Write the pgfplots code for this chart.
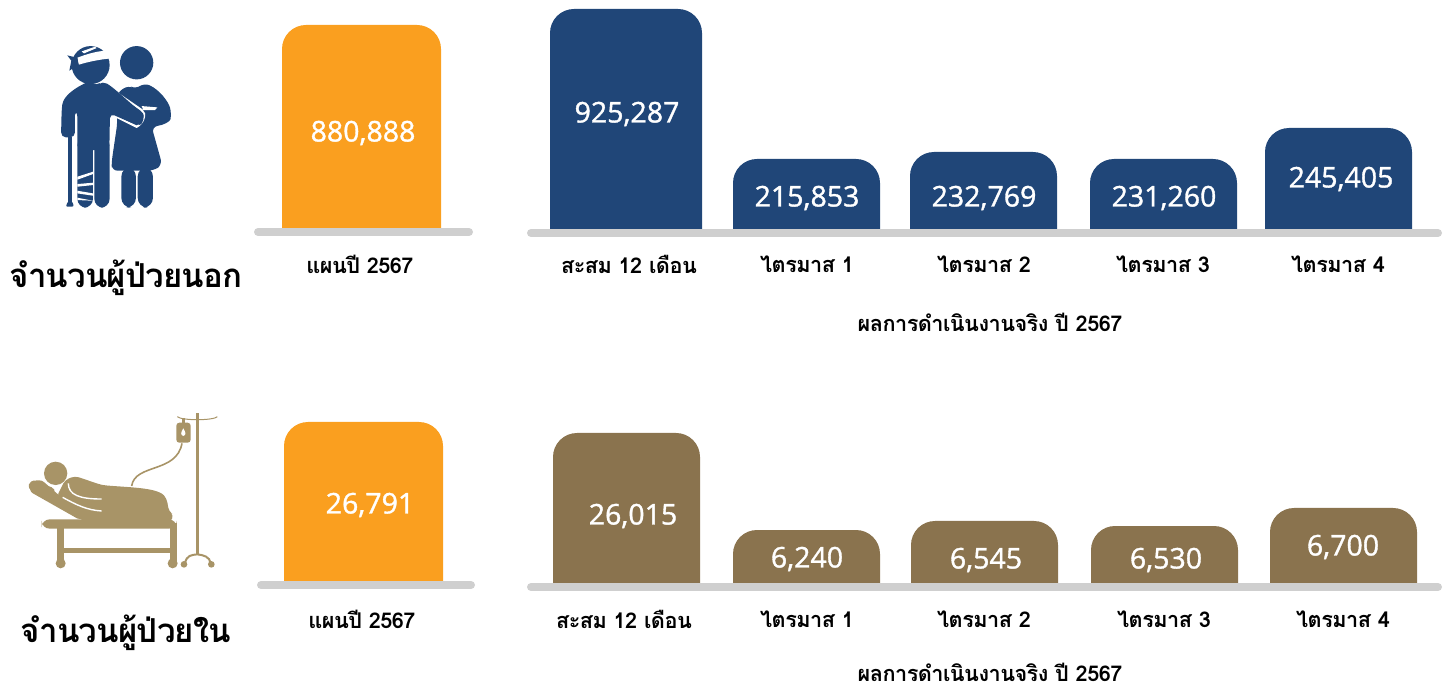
\documentclass[border=0pt]{standalone}
\usepackage{fontspec}
\usepackage{pgfplots}
\usepackage{pgfplotstable}
\pgfplotsset{compat=1.18}
\setmainfont{Open Sans}
\newfontfamily\thaifont[Script=Thai,LetterSpace=-2.5]{Loma}
\newfontfamily\numfam[FakeBold=1.2]{Open Sans}
\definecolor{navy}{HTML}{204678}
\definecolor{amber}{HTML}{FA9F1F}
\definecolor{umber}{HTML}{8A734E}
\definecolor{tan1}{HTML}{A89467}
\definecolor{base}{HTML}{CFCFCF}
\newcommand\numfont{\numfam\fontsize{28.5}{32}\selectfont\color{white}}
\newcommand\catfont{\thaifont\bfseries\fontsize{21.7}{26}\selectfont}
% x = pixel position of the bar centre, top = drawn height + 30 (the base is 30 below the clip)
\pgfplotstableread{
x top
361.5 234
}\planA
\pgfplotstableread{
x top
626 250
}\cumA
\pgfplotstableread{
x top
806.5 100
983.5 107
1163.5 100
1338.5 131
}\quarterA
\pgfplotstableread{
x y label
363 126 880,888
627 145 925,287
807 61 215,853
984 61 232,769
1164 61 231,260
1341 80 245,405
}\labelsA
\pgfplotstableread{
x top
363.5 189
}\planB
\pgfplotstableread{
x top
626.5 181
}\cumB
\pgfplotstableread{
x top
806.5 84
984.5 93
1164.5 88
1343.5 106
}\quarterB
\pgfplotstableread{
x y label
370 109 26,791
633 98 26,015
807 55 6,240
986 54 6,545
1166 54 6,530
1343 67 6,700
}\labelsB
\pgfplotsset{
  panel/.style={
    scale only axis, width=1444pt, height=260pt,
    xmin=0, xmax=1444, ymin=30, ymax=290,
    axis line style={draw=none}, major tick length=0pt,
    ytick=\empty, xtick pos=bottom,
    xticklabel style={font=\catfont, anchor=center, yshift=-35pt},
    every node near coord/.style={anchor=center, font=\numfont},
    anchor=south west,
  },
  barpanel/.style={
    scale only axis, width=1444pt, height=290pt,
    xmin=0, xmax=1444, ymin=0, ymax=290,
    hide axis, anchor=south west,
  },
  barstyle/.style 2 args={ybar, bar shift=0pt, bar width=#1, fill=#2, draw=none, rounded corners=24pt},
  numlabels/.style={draw=none, mark=none, nodes near coords, point meta=explicit symbolic, nodes near coords align=center},
}
\begin{document}
\begin{tikzpicture}[x=1pt,y=1pt]
\useasboundingbox (0,0) rectangle (1444,689);
% --- row 1 bars
\begin{scope}
\clip (0,460) rectangle (1444,689);
\begin{axis}[barpanel, at={(0pt,430pt)}]
\addplot[barstyle={159}{amber}] table[x=x,y=top] {\planA};
\addplot[barstyle={152}{navy}] table[x=x,y=top] {\cumA};
\addplot[barstyle={147}{navy}] table[x=x,y=top] {\quarterA};
\end{axis}
\end{scope}
\draw[base, line width=8pt, line cap=round] (258,457) -- (469,457);
\draw[base, line width=8pt, line cap=round] (531,456) -- (1438,456);
\begin{axis}[panel, at={(0pt,460pt)}, xtick={360,629,807,984,1163,1338},
  xticklabels={แผนปี 2567,สะสม 12 เดือน,ไตรมาส 1,ไตรมาส 2,ไตรมาส 3,ไตรมาส 4}]
\addplot[numlabels] table[x=x,y=y,meta=label] {\labelsA};
\end{axis}
\node[font=\catfont] at (990,367) {ผลการดำเนินงานจริง ปี 2567};
\node[font=\thaifont\bfseries\fontsize{33}{36}\selectfont] at (126,411) {จำนวนผู้ป่วยนอก};
% --- row 2 bars
\begin{scope}
\clip (0,108) rectangle (1444,300);
\begin{axis}[barpanel, at={(0pt,78pt)}]
\addplot[barstyle={159}{amber}] table[x=x,y=top] {\planB};
\end{axis}
\end{scope}
\begin{scope}
\clip (0,105) rectangle (1444,300);
\begin{axis}[barpanel, at={(0pt,75pt)}]
\addplot[barstyle={147}{umber}] table[x=x,y=top] {\cumB};
\addplot[barstyle={147}{umber}] table[x=x,y=top] {\quarterB};
\end{axis}
\end{scope}
\draw[base, line width=8pt, line cap=round] (261,104) -- (471,104);
\draw[base, line width=8pt, line cap=round] (531,102) -- (1438,102);
\begin{axis}[panel, at={(0pt,105pt)}, xtick={362,624,807,984,1164,1343},
  xticklabels={แผนปี 2567,สะสม 12 เดือน,ไตรมาส 1,ไตรมาส 2,ไตรมาส 3,ไตรมาส 4}]
\addplot[numlabels] table[x=x,y=y,meta=label] {\labelsB};
\end{axis}
\node[font=\catfont] at (990,17) {ผลการดำเนินงานจริง ปี 2567};
\node[font=\thaifont\bfseries\fontsize{33}{36}\selectfont] at (126,56) {จำนวนผู้ป่วยใน};
% --- outpatient icon (units: 1/3 px from the image corner at y=30)
\begin{scope}[x=0.3333pt,y=-0.3333pt,shift={(0,-1977)}]
\fill[navy] (410,98) circle (50);
\fill[navy,rounded corners=6pt] (350,190) -- (385,165) -- (408,178) -- (432,158) .. controls (480,180) and (505,215) .. (515,250) .. controls (510,275) and (490,285) .. (455,290) -- (487,405) -- (460,422) -- (335,422) -- (335,395) -- (352,280) -- cycle;
\fill[navy,rounded corners=10pt] (364,410) rectangle (408,533);
\fill[navy,rounded corners=10pt] (413,410) rectangle (459,533);
\fill[white] (425,228) -- (472,232) -- (465,240) -- (430,240) -- cycle;
\draw[white,line width=2.2pt] (330,175) -- (425,240) .. controls (440,250) and (430,280) .. (410,290) -- (340,255);
\fill[navy] (272,105) circle (57);
\fill[white] (232,83) .. controls (260,72) and (300,60) .. (330,62) -- (333,85) .. controls (300,88) and (265,95) .. (236,104) -- cycle;
\fill[white] (245,64) -- (285,50) -- (290,54) -- (252,70) -- cycle;
\fill[navy] (232,83) -- (202,76) -- (214,92) -- (208,122) -- (236,104) -- cycle;
\fill[navy,rounded corners=5pt] (183,322) -- (185,240) .. controls (190,195) and (230,172) .. (268,153) -- (288,168) -- (308,153) .. controls (345,175) and (385,215) .. (418,240) .. controls (435,255) and (428,285) .. (405,283) -- (330,250) -- (328,360) -- (232,360) -- (232,245) -- (225,240) -- (225,322) -- cycle;
\fill[navy,rounded corners=9pt] (232,320) rectangle (279,533);
\fill[navy,rounded corners=9pt] (283,320) rectangle (329,533);
\fill[white] (232,440) -- (279,425) -- (279,432) -- (232,449) -- cycle;
\fill[white] (232,462) -- (279,458) -- (279,465) -- (232,470) -- cycle;
\fill[white] (232,482) -- (279,490) -- (279,497) -- (232,490) -- cycle;
\fill[white] (232,503) -- (279,512) -- (232,510) -- cycle;
\fill[navy] (204,320) rectangle (215,515);
\fill[navy,rounded corners=2pt] (205,512) -- (216,512) -- (222,530) -- (197,530) -- cycle;
\end{scope}
% --- inpatient icon (units: 1/3 px from the image corner at y=400)
\begin{scope}[x=0.3333pt,y=-0.3333pt,shift={(0,-867)}]
\fill[tan1] (167,220) circle (35);
\draw[tan1,line width=9.5pt,line cap=round] (100,258) -- (150,275);
\fill[tan1,rounded corners=3pt] (90,243) -- (125,240) -- (150,262) -- (250,350) -- (240,360) -- (90,275) -- cycle;
\fill[tan1,rounded corners=4pt] (195,240) -- (225,228) -- (305,255) .. controls (380,262) and (470,262) .. (500,295) -- (507,335) -- (522,345) -- (510,368) -- (250,365) -- (170,290) -- cycle;
\draw[white,line width=1.4pt] (205,250) .. controls (205,285) and (240,297) .. (305,297);
\draw[white,line width=1.4pt] (188,292) .. controls (230,315) and (260,330) .. (305,333);
\fill[tan1,rounded corners=8pt] (125,358) rectangle (530,386);
\fill[tan1] (172,380) rectangle (192,490);
\fill[tan1] (510,370) rectangle (530,490);
\fill[tan1] (190,445) rectangle (512,458);
\fill[tan1] (182,490) circle (15);
\fill[tan1] (518,490) circle (15);
\draw[tan1,line width=1.6pt] (395,258) .. controls (405,190) and (530,220) .. (546,130);
\fill[tan1] (587,40) rectangle (598,465);
\draw[tan1,line width=1pt] (532,50) .. controls (545,62) and (640,62) .. (652,50);
\draw[tan1,line width=2pt] (555,490) .. controls (560,465) and (575,465) .. (592,463) .. controls (610,465) and (630,470) .. (632,490);
\fill[tan1] (552,493) circle (10);
\fill[tan1] (634,493) circle (10);
\fill[tan1,rounded corners=3pt] (529,68) rectangle (572,128);
\fill[tan1] (545,55) rectangle (555,70);
\fill[white] (550,85) .. controls (543,97) and (540,104) .. (550,108) .. controls (560,104) and (557,97) .. (550,85) -- cycle;
\end{scope}
\end{tikzpicture}
\end{document}
